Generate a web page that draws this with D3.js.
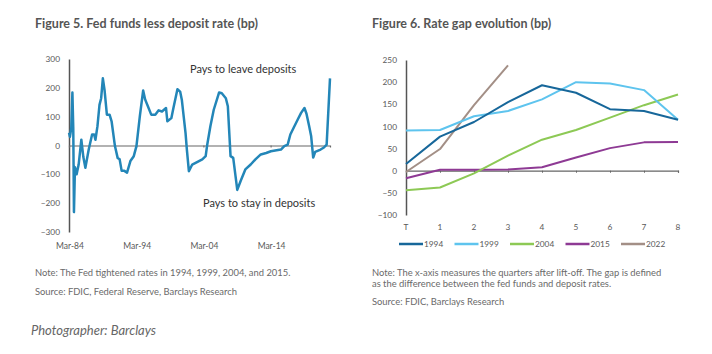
<!DOCTYPE html>
<html><head><meta charset="utf-8">
<script src="https://cdn.jsdelivr.net/npm/d3@7"></script>
<style>
body{margin:0;background:#fff;}
svg text{font-family:Lato, "Open Sans", sans-serif;}
</style></head>
<body><svg id="c" width="712" height="354"></svg>
<script>
// ---- Figure 5 data (decimal year, bp) ----
const f5Dates = [1984.17,1984.3,1984.5,1984.67,1984.8,1984.9,1985.05,1985.3,1985.6,1986.0,1986.3,1986.6,1987.1,1987.6,1987.9,1988.1,1988.4,1988.7,1988.95,1989.2,1989.45,1989.8,1990.2,1990.5,1991.0,1991.4,1991.7,1992.0,1992.4,1992.8,1993.3,1993.8,1994.2,1994.7,1995.2,1995.5,1995.9,1996.4,1997.0,1997.5,1998.0,1998.6,1998.8,1999.4,1999.7,2000.3,2000.7,2000.95,2001.5,2001.7,2002.0,2002.5,2003.0,2003.5,2004.0,2004.5,2004.7,2005.2,2005.7,2006.5,2006.9,2007.5,2007.8,2008.2,2008.6,2009.2,2009.7,2010.4,2011.2,2011.9,2012.7,2013.5,2014.2,2015.7,2016.2,2016.7,2017.1,2017.7,2018.2,2018.7,2019.2,2019.5,2019.9,2020.2,2020.5,2020.8,2021.6,2022.1,2022.5,2023.0];
const f5Values = [44,30,60,184,60,-231,-75,-100,-66,20,-40,-77,-14,38,38,20,67,141,164,233,193,107,107,84,-2,-43,-48,-88,-88,-94,-54,-37,-2,101,191,159,136,107,107,122,118,130,84,95,130,195,187,159,44,-14,-89,-66,-60,-54,-48,-37,-2,67,124,184,181,164,136,-37,-43,-154,-123,-83,-66,-48,-31,-26,-20,-14,-2,3,38,67,90,113,130,110,67,32,-42,-22,-14,-7,3,233];
const f5TickDates = ["1984-03","1994-03","2004-03","2014-03"];
const f5YTicks = [300,200,100,0,-100,-200,-300];

// ---- Figure 6 data (quarters after lift-off, bp) ----
const f6Quarters = ["T","1","2","3","4","5","6","7","8"];
const f6Series = ["1994","1999","2004","2015","2022"];
const gap1994 = [15,77,110,155,193,176,139,135,115];
const gap1999 = [91,92,123,135,161,200,197,182,115];
const gap2004 = [-44,-38,-6,34,70,92,120,148,172];
const gap2015 = [-17,2,2,3,8,30,51,64,65];
const gap2022 = [-3,49,148,238];
const f6YTicks = [250,200,150,100,50,0,-50,-100];
const f6Colors = ["#17679a","#5ec4ee","#8dc955","#8e3a94","#a38f86"];

const svg = d3.select("#c");
const textCol = "#595959";

// ---------- Figure 5 ----------
svg.append("text").attr("x",35).attr("y",28).attr("font-size",12.5).attr("font-weight",700).attr("fill","#555")
  .text("Figure 5. Fed funds less deposit rate (bp)");

const parse = d3.timeParse("%Y-%m");
const decToDate = d => { const y=Math.floor(d); return new Date(y,0,1+Math.round((d-y)*365)); };
const x5 = d3.scaleTime().domain([parse("1984-03"), decToDate(2023.0)]).range([69,330]);
const y5 = d3.scaleLinear().domain([-300,300]).range([232,59]);

const g5 = svg.append("g");
const ya5 = d3.axisLeft(y5).tickValues(f5YTicks).tickSize(0).tickPadding(9);
g5.append("g").attr("transform","translate(69,0)").call(ya5)
  .call(g=>g.select(".domain").attr("stroke","#555").attr("stroke-width",1.5))
  .call(g=>g.selectAll("text").attr("font-size",8.3).attr("fill",textCol).attr("font-family","Lato, sans-serif"));
const xa5 = d3.axisBottom(x5).tickValues(f5TickDates.map(parse)).tickSize(2).tickFormat("");
g5.append("g").attr("transform",`translate(0,${y5(0)})`).call(xa5)
  .call(g=>g.select(".domain").attr("stroke","#666").attr("stroke-width",1.2))
  .call(g=>g.selectAll("line").attr("stroke","#666"));
g5.append("g").selectAll("text").data(f5TickDates).join("text")
  .attr("x",d=>x5(parse(d))+1).attr("y",249).attr("text-anchor","middle").attr("font-size",8.5).attr("fill",textCol)
  .text(d=>d3.timeFormat("%b-%y")(parse(d)));
const line5 = d3.line().x((d,i)=>x5(decToDate(f5Dates[i]))).y(d=>y5(d)).curve(d3.curveLinear);
g5.append("path").datum(f5Values).attr("d",line5).attr("fill","none").attr("stroke","#2386b8").attr("stroke-width",2.5).attr("stroke-linejoin","round");
g5.append("text").attr("x",190).attr("y",73).attr("font-size",11).attr("fill","#333").text("Pays to leave deposits");
g5.append("text").attr("x",203).attr("y",207).attr("font-size",11).attr("fill","#333").text("Pays to stay in deposits");
svg.append("text").attr("x",35).attr("y",276).attr("font-size",9.4).attr("fill","#6a6a6a").text("Note: The Fed tightened rates in 1994, 1999, 2004, and 2015.");
svg.append("text").attr("x",35).attr("y",295).attr("font-size",9.4).attr("fill","#6a6a6a").text("Source: FDIC, Federal Reserve, Barclays Research");
svg.append("text").attr("x",31).attr("y",335).attr("font-size",13).attr("font-style","italic").attr("fill","#666")
  .attr("font-family","'Liberation Sans', Arial, sans-serif").text("Photographer: Barclays");

// ---------- Figure 6 ----------
svg.append("text").attr("x",372).attr("y",28).attr("font-size",12.5).attr("font-weight",700).attr("fill","#555")
  .text("Figure 6. Rate gap evolution (bp)");
const x6 = d3.scalePoint().domain(f6Quarters).range([406,678]);
const y6 = d3.scaleLinear().domain([-100,250]).range([215,60]);
const g6 = svg.append("g");
g6.append("g").attr("transform","translate(406,0)").call(d3.axisLeft(y6).tickValues(f6YTicks).tickSize(0).tickPadding(9))
  .call(g=>g.select(".domain").attr("stroke","#555").attr("stroke-width",1.5))
  .call(g=>g.selectAll("text").attr("font-size",8.3).attr("fill",textCol).attr("font-family","Lato, sans-serif"));
g6.append("g").attr("transform",`translate(0,${y6(0)})`).call(d3.axisBottom(x6).tickSize(2).tickFormat(""))
  .call(g=>g.select(".domain").attr("stroke","#666").attr("stroke-width",1.2))
  .call(g=>g.selectAll("line").attr("stroke","#666"));
g6.append("g").selectAll("text").data(f6Quarters).join("text")
  .attr("x",d=>x6(d)).attr("y",230).attr("text-anchor","middle").attr("font-size",8.3).attr("fill",textCol).text(d=>d);
const allGaps = [gap1994,gap1999,gap2004,gap2015,gap2022];
const line6 = d3.line().x((d,i)=>x6(f6Quarters[i])).y(d=>y6(d));
[4,3,2,1,0].forEach(k=>{
  g6.append("path").datum(allGaps[k]).attr("d",line6).attr("fill","none").attr("stroke",f6Colors[k]).attr("stroke-width",2).attr("stroke-linejoin","round");
});
const leg = g6.append("g").selectAll("g").data(f6Series).join("g")
  .attr("transform",(d,i)=>`translate(${399+i*55.5},244)`);
leg.append("line").attr("x1",0).attr("x2",24).attr("stroke",(d,i)=>f6Colors[i]).attr("stroke-width",2.5);
leg.append("text").attr("x",25).attr("y",3).attr("font-size",8.3).attr("fill",textCol).text(d=>d);
svg.append("text").attr("x",372).attr("y",276).attr("font-size",9.4).attr("fill","#6a6a6a").text("Note: The x-axis measures the quarters after lift-off. The gap is defined");
svg.append("text").attr("x",372).attr("y",287).attr("font-size",9.4).attr("fill","#6a6a6a").text("as the difference between the fed funds and deposit rates.");
svg.append("text").attr("x",372).attr("y",305).attr("font-size",9.4).attr("fill","#6a6a6a").text("Source: FDIC, Barclays Research");
</script></body></html>
